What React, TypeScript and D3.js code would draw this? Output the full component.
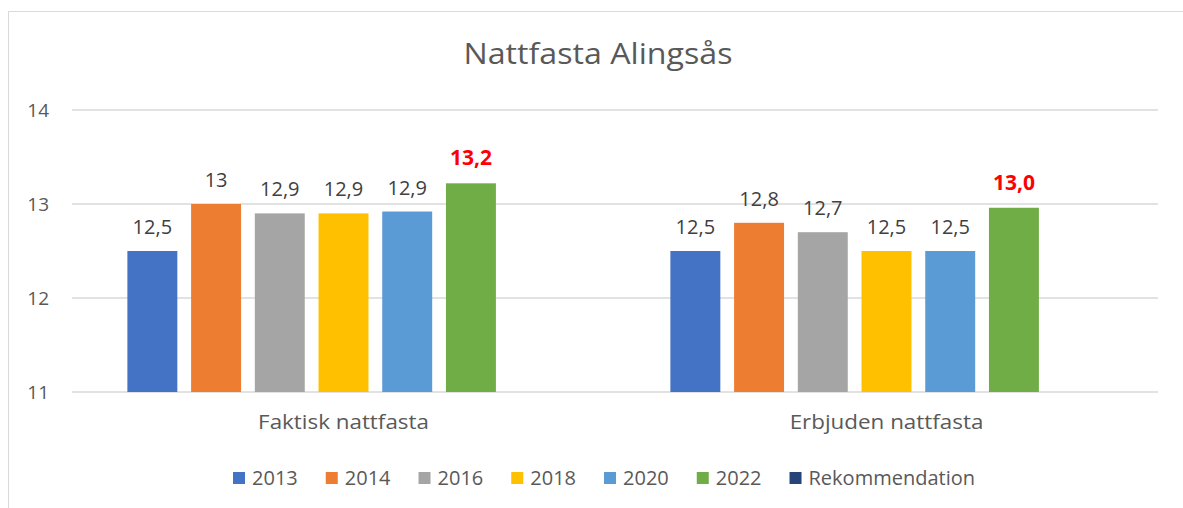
import { useEffect, useRef } from 'react';
import * as d3 from 'd3';

const categories = ['Faktisk nattfasta', 'Erbjuden nattfasta'];
const seriesNames = ['2013', '2014', '2016', '2018', '2020', '2022', 'Rekommendation'];
const seriesColors = ['#4472C4', '#ED7D31', '#A5A5A5', '#FFC000', '#5B9BD5', '#70AD47', '#264478'];

// values per series, one per category (Rekommendation has no bars)
const values: (number | null)[][] = [
  [12.5, 12.5],
  [13.0, 12.8],
  [12.9, 12.7],
  [12.9, 12.5],
  [12.92, 12.5],
  [13.22, 12.96],
  [null, null],
];
const labels: (string | null)[][] = [
  ['12,5', '12,5'],
  ['13', '12,8'],
  ['12,9', '12,7'],
  ['12,9', '12,5'],
  ['12,9', '12,5'],
  ['13,2', '13,0'],
  [null, null],
];
const highlightSeries = '2022';
const yTicks = [11, 12, 13, 14];

const W = 1183;
const H = 508;
const FONT = '"Open Sans", "Noto Sans", sans-serif';

const App = () => {
  const svgRef = useRef<SVGSVGElement>(null);

  useEffect(() => {
    if (!svgRef.current) return;
    const svg = d3.select(svgRef.current);
    svg.selectAll('*').remove();

    const left = 72;
    const right = 1158;
    const top = 110;
    const bottom = 392;

    // chart frame (cut off at right/bottom like the reference)
    svg
      .append('rect')
      .attr('x', 8.5)
      .attr('y', 11.5)
      .attr('width', 1300)
      .attr('height', 600)
      .attr('fill', '#fff')
      .attr('stroke', '#d9d9d9')
      .attr('stroke-width', 1);

    // title, slightly widened to match the reference's proportions
    svg
      .append('text')
      .attr('transform', 'translate(598,64) scale(1.11,1)')
      .attr('text-anchor', 'middle')
      .attr('font-family', FONT)
      .attr('font-size', 29)
      .attr('fill', '#595959')
      .text('Nattfasta Alingsås');

    const y = d3.scaleLinear().domain([11, 14]).range([bottom, top]);

    const x0 = d3.scaleBand<string>().domain(categories).range([left, right]);
    const x1 = d3
      .scaleBand<string>()
      .domain(seriesNames)
      .range([48.5, x0.bandwidth() - 48.5])
      .paddingInner(0.216)
      .paddingOuter(0.108);

    // gridlines
    svg
      .selectAll('.grid')
      .data(yTicks)
      .enter()
      .append('line')
      .attr('x1', left)
      .attr('x2', right)
      .attr('y1', (d) => y(d))
      .attr('y2', (d) => y(d))
      .attr('stroke', '#d9d9d9')
      .attr('stroke-width', 1.3);

    svg
      .selectAll('.ytick')
      .data(yTicks)
      .enter()
      .append('text')
      .attr('x', 49)
      .attr('y', (d) => y(d))
      .attr('dy', '0.36em')
      .attr('text-anchor', 'end')
      .attr('font-family', FONT)
      .attr('font-size', 19)
      .attr('fill', '#595959')
      .text((d) => String(d));

    // bars
    seriesNames.forEach((name, si) => {
      categories.forEach((cat, ci) => {
        const v = values[si][ci];
        if (v === null) return;
        const bx = (x0(cat) ?? 0) + (x1(name) ?? 0);
        svg
          .append('rect')
          .attr('x', bx)
          .attr('y', y(v))
          .attr('width', x1.bandwidth())
          .attr('height', y(11) - y(v))
          .attr('fill', seriesColors[si]);

        const hl = name === highlightSeries;
        svg
          .append('text')
          .attr('x', bx + x1.bandwidth() / 2)
          .attr('y', y(v) - (hl ? 18 : 17))
          .attr('text-anchor', 'middle')
          .attr('font-family', FONT)
          .attr('font-size', hl ? 21 : 20)
          .attr('font-weight', hl ? 700 : 400)
          .attr('fill', hl ? '#FF0000' : '#404040')
          .text(labels[si][ci] ?? '');
      });
    });

    // category labels
    svg
      .selectAll('.cat')
      .data(categories)
      .enter()
      .append('text')
      .attr(
        'transform',
        (d) => `translate(${(x0(d) ?? 0) + x0.bandwidth() / 2},429) scale(1.12,1)`,
      )
      .attr('text-anchor', 'middle')
      .attr('font-family', FONT)
      .attr('font-size', 20)
      .attr('fill', '#595959')
      .text((d) => d);

    // legend, laid out from measured text widths
    const legend = svg.append('g');
    const items = seriesNames.map((name, i) => {
      const g = legend.append('g');
      g.append('rect')
        .attr('x', 0)
        .attr('y', 472)
        .attr('width', 12)
        .attr('height', 12)
        .attr('fill', seriesColors[i]);
      const t = g
        .append('text')
        .attr('x', 19)
        .attr('y', 485)
        .attr('font-family', FONT)
        .attr('font-size', 20)
        .attr('fill', '#595959')
        .text(name);
      const w = 19 + (t.node() as SVGTextElement).getComputedTextLength();
      return { g, w };
    });
    const gap = 28;
    const total = d3.sum(items, (d) => d.w) + gap * (items.length - 1);
    let cx = 604 - total / 2;
    items.forEach(({ g, w }) => {
      g.attr('transform', `translate(${cx},0)`);
      cx += w + gap;
    });
  }, []);

  return (
    <svg
      ref={svgRef}
      width={W}
      height={H}
      style={{ position: 'absolute', left: 0, top: 0, background: '#fff' }}
    />
  );
};

export default App;
